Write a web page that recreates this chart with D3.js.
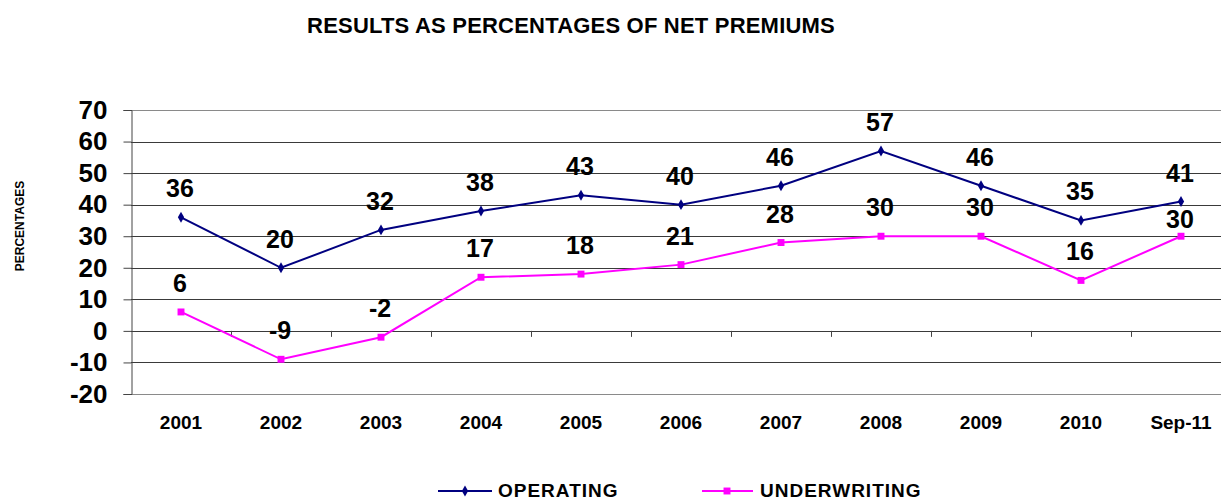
<!DOCTYPE html>
<html>
<head>
<meta charset="utf-8">
<script src="https://cdn.jsdelivr.net/npm/d3@7"></script>
<style>
  body { margin: 0; background: #fff; }
  text { font-family: Arial, "Liberation Sans", sans-serif; font-weight: bold; }
</style>
</head>
<body>
<div id="vis"></div>
<script>
// data
var categories = ["2001", "2002", "2003", "2004", "2005", "2006", "2007", "2008", "2009", "2010", "Sep-11"];
var operating = [36, 20, 32, 38, 43, 40, 46, 57, 46, 35, 41];
var underwriting = [6, -9, -2, 17, 18, 21, 28, 30, 30, 16, 30];
var yTicks = [-20, -10, 0, 10, 20, 30, 40, 50, 60, 70];
var seriesNames = ["OPERATING", "UNDERWRITING"];

var width = 1221;
var height = 500;

var svg = d3.select("#vis")
    .append("svg")
    .attr("width", width)
    .attr("height", height);

var x = d3.scaleBand()
    .domain(categories)
    .range([131, 1231])
    .padding(0);

var y = d3.scaleLinear()
    .domain([-20, 70])
    .range([394, 110]);

function cx(c) { return x(c) + x.bandwidth() / 2; }

// title
svg.append("text")
    .attr("x", 571)
    .attr("y", 33)
    .attr("text-anchor", "middle")
    .style("font-size", "22px")
    .style("letter-spacing", "0.2px")
    .text("RESULTS AS PERCENTAGES OF NET PREMIUMS");

// y axis title
svg.append("text")
    .attr("transform", "translate(24, 226) rotate(-90)")
    .attr("text-anchor", "middle")
    .style("font-size", "12px")
    .text("PERCENTAGES");

// gridlines
svg.append("g")
    .selectAll("line")
    .data(yTicks)
    .enter().append("line")
    .attr("x1", 131)
    .attr("x2", width)
    .attr("y1", function(d) { return Math.round(y(d)) + 0.5; })
    .attr("y2", function(d) { return Math.round(y(d)) + 0.5; })
    .attr("stroke", function(d) { return (d == 70 || d == -20) ? "#8a8a8a" : "#3a3a3a"; })
    .attr("stroke-width", 1);

// y axis
var yAxis = d3.axisLeft(y)
    .tickValues(yTicks)
    .tickFormat(function(d) { return String(d); })
    .tickSize(8)
    .tickPadding(16);

var gy = svg.append("g")
    .attr("transform", "translate(131.5, 0)")
    .call(yAxis);
gy.select(".domain").attr("stroke", "#444");
gy.selectAll(".tick line").attr("stroke", "#444");
gy.selectAll("text")
    .style("font-size", "26px")
    .style("font-family", "Arial, 'Liberation Sans', sans-serif")
    .style("font-weight", "bold")
    .attr("fill", "#000");

// small ticks on the zero line between categories
svg.append("g")
    .selectAll("line")
    .data(categories.slice(1))
    .enter().append("line")
    .attr("x1", function(d) { return Math.round(x(d)) + 0.5; })
    .attr("x2", function(d) { return Math.round(x(d)) + 0.5; })
    .attr("y1", y(0))
    .attr("y2", y(0) + 6)
    .attr("stroke", "#444");

// x axis labels
var xAxis = d3.axisBottom(x)
    .tickSize(0)
    .tickPadding(22);

var gx = svg.append("g")
    .attr("transform", "translate(0, 394)")
    .call(xAxis);
gx.select(".domain").remove();
gx.selectAll("text")
    .style("font-size", "19px")
    .style("font-family", "Arial, 'Liberation Sans', sans-serif")
    .style("font-weight", "bold")
    .attr("fill", "#000");

var line = d3.line()
    .x(function(d, i) { return cx(categories[i]); })
    .y(function(d) { return y(d); });

var diamond = d3.symbol().type(d3.symbolDiamond).size(34);
var square = d3.symbol().type(d3.symbolSquare).size(48);

// operating series
svg.append("path")
    .datum(operating)
    .attr("d", line)
    .attr("fill", "none")
    .attr("stroke", "#000080")
    .attr("stroke-width", 2);

svg.append("g")
    .selectAll("path")
    .data(operating)
    .enter().append("path")
    .attr("d", diamond)
    .attr("transform", function(d, i) { return "translate(" + cx(categories[i]) + "," + y(d) + ")"; })
    .attr("fill", "#000080");

// underwriting series
svg.append("path")
    .datum(underwriting)
    .attr("d", line)
    .attr("fill", "none")
    .attr("stroke", "#ff00ff")
    .attr("stroke-width", 2);

svg.append("g")
    .selectAll("path")
    .data(underwriting)
    .enter().append("path")
    .attr("d", square)
    .attr("transform", function(d, i) { return "translate(" + cx(categories[i]) + "," + y(d) + ")"; })
    .attr("fill", "#ff00ff");

// data labels
function addLabels(values, lastOffset) {
  svg.append("g")
      .selectAll("text")
      .data(values)
      .enter().append("text")
      .attr("x", function(d, i) { return cx(categories[i]) - 1; })
      .attr("y", function(d, i) {
        var off = (i == values.length - 1) ? lastOffset : 20;
        return y(d) - off;
      })
      .attr("text-anchor", "middle")
      .style("font-size", "25px")
      .text(function(d) { return d; });
}
addLabels(operating, 20);
addLabels(underwriting, 8);

// legend
var legend = svg.append("g");

legend.append("line")
    .attr("x1", 438).attr("x2", 492)
    .attr("y1", 491).attr("y2", 491)
    .attr("stroke", "#000080")
    .attr("stroke-width", 2);
legend.append("path")
    .attr("d", diamond)
    .attr("transform", "translate(465,491)")
    .attr("fill", "#000080");
legend.append("text")
    .attr("x", 498)
    .attr("y", 497)
    .style("font-size", "19px")
    .style("letter-spacing", "1px")
    .text(seriesNames[0]);

legend.append("line")
    .attr("x1", 702).attr("x2", 753)
    .attr("y1", 491).attr("y2", 491)
    .attr("stroke", "#ff00ff")
    .attr("stroke-width", 2);
legend.append("path")
    .attr("d", square)
    .attr("transform", "translate(727,491)")
    .attr("fill", "#ff00ff");
legend.append("text")
    .attr("x", 760)
    .attr("y", 497)
    .style("font-size", "19px")
    .style("letter-spacing", "1px")
    .text(seriesNames[1]);
</script>
</body>
</html>
